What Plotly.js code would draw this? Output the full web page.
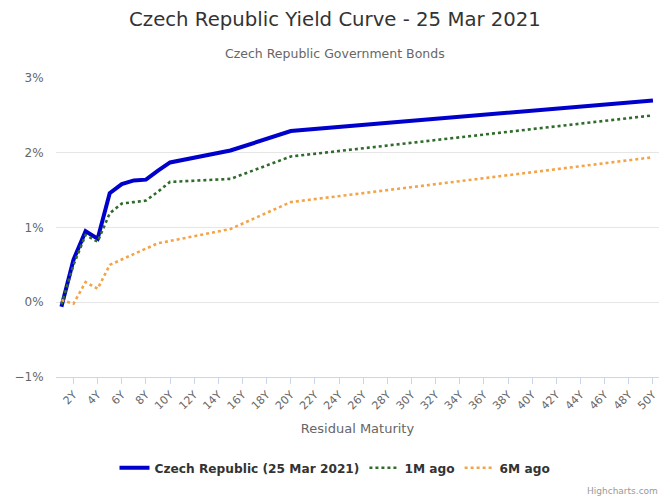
<!DOCTYPE html>
<html>
<head>
<meta charset="utf-8">
<script src="https://cdn.plot.ly/plotly-3.0.1.min.js"></script>
<style>
html,body{margin:0;padding:0;background:#fff;}
#chart{width:670px;height:502px;}
</style>
</head>
<body>
<div id="chart"></div>
<script>
const maturities = [1, 2, 3, 4, 5, 6, 7, 8, 9, 10, 15, 20, 50];
const czNow = [-0.06, 0.57, 0.95, 0.85, 1.46, 1.58, 1.63, 1.64, 1.76, 1.87, 2.03, 2.29, 2.70];
const oneMonthAgo = [-0.03, 0.50, 0.90, 0.81, 1.19, 1.32, 1.34, 1.36, 1.48, 1.61, 1.65, 1.95, 2.50];
const sixMonthsAgo = [0.03, -0.02, 0.27, 0.18, 0.50, 0.57, 0.64, 0.71, 0.79, 0.82, 0.98, 1.34, 1.94];
const xTicks = [2,4,6,8,10,12,14,16,18,20,22,24,26,28,30,32,34,36,38,40,42,44,46,48,50];
const xTickLabels = xTicks.map(v => v + 'Y');
const yTicks = [-1, 0, 1, 2, 3];
const yTickLabels = ['\u22121%', '0%', '1%', '2%', '3%'];
const seriesNames = ['Czech Republic (25 Mar 2021)', '1M ago', '6M ago'];

const FONT = '"DejaVu Sans", Verdana, sans-serif';

const traces = [
  {x: maturities, y: czNow, name: seriesNames[0], mode: 'lines', type: 'scatter',
   line: {color: '#0000cc', width: 4}},
  {x: maturities, y: oneMonthAgo, name: seriesNames[1], mode: 'lines', type: 'scatter',
   line: {color: '#2f6b2a', width: 2.6, dash: 'dot'}},
  {x: maturities, y: sixMonthsAgo, name: seriesNames[2], mode: 'lines', type: 'scatter',
   line: {color: '#f4a448', width: 2.6, dash: 'dot'}}
];

const layout = {
  width: 670, height: 502,
  paper_bgcolor: '#fff', plot_bgcolor: '#fff',
  margin: {l: 56, r: 11, t: 78, b: 125},
  font: {family: FONT, color: '#666'},
  title: {text: 'Czech Republic Yield Curve - 25 Mar 2021', font: {family: FONT, size: 19.7, color: '#333'},
          x: 0.5, xanchor: 'center', xref: 'container', y: 1 - 19 / 502, yanchor: 'middle', yref: 'container'},
  showlegend: true,
  legend: {orientation: 'h', x: (335 - 56) / 603, xanchor: 'center', y: -0.255, yanchor: 'top',
           font: {family: FONT, size: 12.2, color: '#333', weight: 'bold'},
           itemwidth: 30, tracegroupgap: 0},
  xaxis: {
    range: [0.55, 50.5], tickmode: 'array', tickvals: xTicks, ticktext: xTickLabels,
    tickangle: -45, tickfont: {family: FONT, size: 11, color: '#666'},
    ticks: 'outside', ticklen: 6, tickcolor: '#ccd6eb', tickwidth: 1,
    showline: true, linecolor: '#ccd6eb', linewidth: 1,
    showgrid: false, zeroline: false,
    title: {text: 'Residual Maturity', font: {family: FONT, size: 13, color: '#666'}, standoff: 12}
  },
  yaxis: {
    range: [-1, 3], tickmode: 'array', tickvals: yTicks, ticktext: yTickLabels,
    tickfont: {family: FONT, size: 12, color: '#666'},
    showgrid: true, gridcolor: '#e6e6e6', gridwidth: 1,
    zeroline: false, showline: false, ticks: 'outside', ticklen: 9, tickcolor: 'rgba(0,0,0,0)'
  },
  annotations: [
    {text: 'Czech Republic Government Bonds', xref: 'paper', yref: 'paper', x: (335 - 56) / 603, y: 1 + (78 - 53) / 299,
     xanchor: 'center', yanchor: 'middle', showarrow: false, font: {family: FONT, size: 12.5, color: '#666'}},
    {text: 'Highcharts.com', xref: 'paper', yref: 'paper', x: 1 + 1 / 603, y: -(491 - 377) / 299,
     xanchor: 'right', yanchor: 'middle', showarrow: false, font: {family: FONT, size: 9, color: '#999'}}
  ]
};

Plotly.newPlot('chart', traces, layout, {displayModeBar: false, staticPlot: true});
</script>
</body>
</html>
